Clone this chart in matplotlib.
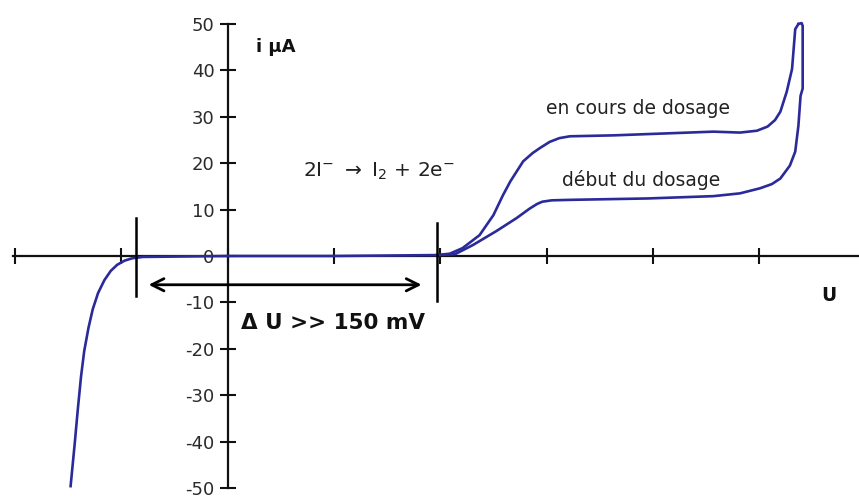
import matplotlib
matplotlib.use("Agg")
import matplotlib.pyplot as plt

plt.rcParams['font.family'] = ['DejaVu Sans']
plt.rcParams['mathtext.fontset'] = 'dejavusans'

# ---- data (U in arbitrary units, i in µA) ----
u_cathodic = [-1.478, -1.44, -1.41, -1.38, -1.35, -1.31, -1.27, -1.22, -1.16, -1.10,
              -1.04, -0.97, -0.90, -0.80, 0.0, 1.0, 1.5, 1.97]
i_cathodic = [-49.6, -40.6, -33.0, -26.0, -20.5, -15.5, -11.5, -8.0, -5.2, -3.2,
              -1.9, -1.0, -0.5, -0.2, 0.0, 0.0, 0.1, 0.2]

u_en_cours = [1.97, 2.09, 2.21, 2.37, 2.50, 2.59, 2.66, 2.78, 2.87, 2.94, 3.03, 3.12, 3.22,
              3.63, 4.10, 4.57, 4.82, 4.98, 5.08, 5.15, 5.20, 5.26, 5.31, 5.34, 5.37]
i_en_cours = [0.2, 0.5, 1.7, 4.5, 8.8, 13.1, 16.1, 20.4, 22.2, 23.3, 24.6, 25.4, 25.8,
              26.0, 26.4, 26.8, 26.6, 27.0, 27.9, 29.3, 31.1, 35.4, 40.3, 48.9, 50.0]

u_debut = [1.97, 2.14, 2.31, 2.53, 2.72, 2.84, 2.91, 2.96, 3.05, 3.22, 3.95, 4.57, 4.82,
           5.01, 5.12, 5.20, 5.29, 5.34, 5.37, 5.39, 5.41, 5.41, 5.40, 5.37]
i_debut = [0.2, 0.4, 2.4, 5.4, 8.2, 10.2, 11.2, 11.7, 12.0, 12.1, 12.4, 12.9, 13.5,
           14.6, 15.5, 16.7, 19.5, 22.5, 28.1, 34.5, 36.1, 49.6, 50.2, 50.0]

y_ticks = [-50, -40, -30, -20, -10, 0, 10, 20, 30, 40, 50]
x_ticks = [-2, -1, 0, 1, 2, 3, 4, 5]

marker_u = [-0.86, 1.97]
marker_top = [8.2, 7.1]
marker_bottom = [-8.6, -9.7]
arrow_u = [-0.77, 1.85]
arrow_i = -6.2

curve_color = '#2b2a9a'

fig = plt.figure(figsize=(8.59, 4.99), dpi=100)
ax = fig.add_axes([13 / 859, 11 / 499, 846 / 859, 464 / 499])
ax.set_xlim(-2.02, 5.94)
ax.set_ylim(-50, 50)

ax.plot(u_cathodic, i_cathodic, color=curve_color, lw=1.9, clip_on=False, zorder=3,
        solid_joinstyle='round')
ax.plot(u_en_cours, i_en_cours, color=curve_color, lw=1.9, clip_on=False, zorder=3,
        solid_joinstyle='round')
ax.plot(u_debut, i_debut, color=curve_color, lw=1.9, clip_on=False, zorder=3,
        solid_joinstyle='round')

for u, t, b in zip(marker_u, marker_top, marker_bottom):
    ax.plot([u, u], [b, t], color='black', lw=1.8, zorder=4)

ax.annotate('', xy=(arrow_u[0], arrow_i), xytext=(arrow_u[1], arrow_i),
            arrowprops=dict(arrowstyle='<->', lw=2.0, color='black', mutation_scale=22))

for s in ['top', 'right']:
    ax.spines[s].set_visible(False)
ax.spines['left'].set_position(('data', 0))
ax.spines['bottom'].set_position(('data', 0))
for s in ['left', 'bottom']:
    ax.spines[s].set_linewidth(1.6)
    ax.spines[s].set_color('#111111')

ax.set_yticks(y_ticks)
ax.set_yticklabels([str(v) for v in y_ticks])
ax.set_xticks(x_ticks)
ax.set_xticklabels([])
ax.tick_params(axis='y', direction='inout', length=11, width=1.5, pad=4,
               labelsize=13, labelcolor='#2a2a2a', color='#111111')
ax.tick_params(axis='x', direction='inout', length=12, width=1.5, color='#111111')

ax.text(0.27, 45, 'i µA', fontsize=13, fontweight='bold', ha='left', va='center', color='#111111')
ax.text(0.71, 18.2, r'2I$^{-}$ $\rightarrow$ I$_{2}$ + 2e$^{-}$', fontsize=14.5,
        ha='left', va='center', color='#222222')
ax.text(3.86, 31.8, 'en cours de dosage', fontsize=13.5, ha='center', va='center', color='#222222')
ax.text(3.89, 16.3, 'début du dosage', fontsize=13.5, ha='center', va='center', color='#222222')
ax.text(0.99, -14.4, 'Δ U >> 150 mV', fontsize=15.5, fontweight='bold', ha='center', va='center',
        color='#111111')
ax.text(5.66, -8.6, 'U', fontsize=13.5, fontweight='bold', ha='center', va='center', color='#111111')

fig.savefig('out.png', dpi=100)
